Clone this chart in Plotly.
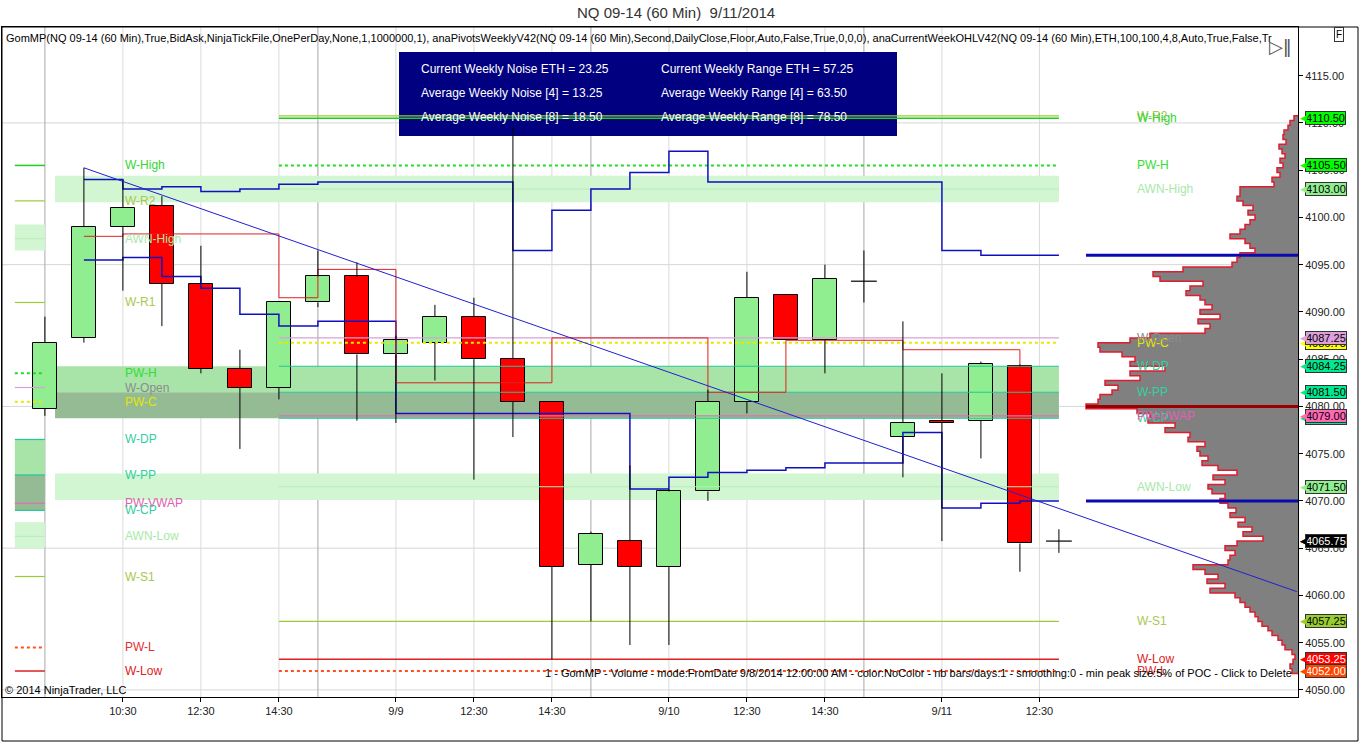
import plotly.graph_objects as go

# ---------------- 60-min candles (x = bar number) ----------------
OPEN = [4079.75, 4087.25, 4099.0, 4101.25, 4093.0, 4084.0, 4082.0, 4091.0, 4093.75, 4085.5,
        4086.75, 4089.5, 4085.0, 4080.5, 4063.25, 4065.75, 4063.0, 4071.0, 4080.5, 4091.75,
        4087.0, 4093.25, 4076.75, 4078.5, 4078.5, 4084.25, 4065.75]
HIGH = [4089.5, 4105.25, 4104.0, 4102.25, 4097.0, 4086.0, 4091.0, 4096.5, 4095.25, 4087.5,
        4090.75, 4091.5, 4109.5, 4080.5, 4066.75, 4073.75, 4071.25, 4081.75, 4094.25, 4091.75,
        4095.0, 4096.5, 4089.0, 4083.5, 4084.75, 4084.5, 4067.0]
LOW = [4079.0, 4086.75, 4092.25, 4088.5, 4083.5, 4075.5, 4080.75, 4090.5, 4078.5, 4078.25,
       4082.75, 4072.25, 4076.75, 4053.25, 4057.25, 4054.75, 4054.75, 4070.0, 4079.25, 4087.0,
       4083.5, 4091.0, 4072.5, 4065.75, 4074.5, 4062.5, 4064.5]
CLOSE = [4086.75, 4099.0, 4101.0, 4093.0, 4084.0, 4082.0, 4091.0, 4093.75, 4085.5, 4087.0,
         4089.5, 4085.0, 4080.5, 4063.0, 4066.5, 4063.0, 4071.0, 4080.5, 4091.5, 4087.0,
         4093.5, 4093.25, 4078.25, 4078.25, 4084.5, 4065.5, 4065.75]
LAST_PRICE = 4065.75

# ---------------- axes ----------------
X_TICK_POS = [2, 4, 6, 9, 11, 13, 16, 18, 20, 23, 25.5]
X_TICK_TEXT = ["10:30", "12:30", "14:30", "9/9", "12:30", "14:30", "9/10", "12:30", "14:30", "9/11", "12:30"]
SESSION_BREAKS = [0, 7, 14, 21]
Y_TICKS = [4050, 4055, 4060, 4065, 4070, 4075, 4080, 4085, 4090, 4095, 4100, 4105, 4110, 4115]
Y_GRID = [4050, 4065, 4080, 4095, 4110]

# ---------------- indicator step lines (start at bar 1) ----------------
NOISE_HIGH = [4104.0, 4103.0, 4103.25, 4102.75, 4103.0, 4103.5, 4103.75, 4103.75, 4103.75, 4103.75,
              4103.75, 4096.5, 4100.75, 4103.0, 4104.75, 4107.0, 4103.75, 4103.75, 4103.75, 4103.75,
              4103.75, 4103.75, 4096.5, 4096.0, 4096.0]
NOISE_LOW = [4095.5, 4095.75, 4093.75, 4092.5, 4089.75, 4088.5, 4089.0, 4089.0, 4079.25, 4079.25,
             4079.25, 4079.25, 4079.25, 4079.25, 4071.25, 4072.5, 4073.0, 4073.25, 4073.5, 4074.0,
             4074.0, 4077.25, 4069.25, 4069.75, 4070.0]
RED_STEP = [4098.0, 4098.25, 4098.25, 4098.25, 4098.25, 4091.5, 4094.5, 4094.5, 4082.5, 4082.5,
            4082.5, 4082.5, 4087.25, 4087.25, 4087.25, 4087.25, 4081.5, 4081.5, 4087.0, 4087.0,
            4087.0, 4086.0, 4086.0, 4086.0]
RED_STEP_END = 4084.5
TREND_X = [1, 32.1]
TREND_Y = [4105.25, 4060.4]

# ---------------- weekly pivot levels ----------------
RIGHT_LEVEL_NAMES = ["W-R2", "W-High", "PW-H", "AWN-High", "PW-C", "W-Open", "W-DP", "W-PP",
                     "W-CP", "PW-VWAP", "AWN-Low", "W-S1", "PW-L", "W-Low"]
RIGHT_LEVEL_PRICES = [4110.75, 4110.5, 4105.5, 4103.0, 4086.75, 4087.25, 4084.25, 4081.5,
                      4078.75, 4079.0, 4071.5, 4057.25, 4052.0, 4053.25]
RIGHT_LEVEL_SPAN = [6, 26]
RIGHT_AWN_BANDS = [(4101.6, 4104.4), (4070.1, 4072.9)]
RIGHT_BAND_SPAN = [0.26, 26]

LEFT_LEVEL_NAMES = ["W-High", "W-R2", "AWN-High", "W-R1", "PW-H", "W-Open", "PW-C", "W-DP",
                    "W-PP", "PW-VWAP", "W-CP", "AWN-Low", "W-S1", "PW-L", "W-Low"]
LEFT_LEVEL_PRICES = [4105.5, 4101.75, 4097.75, 4091.0, 4083.5, 4082.0, 4080.5, 4076.5,
                     4072.75, 4069.75, 4069.0, 4066.25, 4062.0, 4054.5, 4052.0]
LEFT_AWN_BANDS = [(4096.5, 4099.25), (4065.0, 4067.75)]
LEFT_SPAN = [-0.77, 0]

PRICE_BOX_VALUES = [4110.5, 4105.5, 4103.0, 4086.75, 4087.25, 4084.25, 4081.5, 4078.75,
                    4079.0, 4071.5, 4065.75, 4057.25, 4053.25, 4052.0]
PRICE_BOX_COLORS = ["#00FF00", "#00FF00", "#90EE90", "#FFFF00", "#DDA0DD", "#00E890", "#00E890",
                    "#00E890", "#FF69B4", "#90EE90", "#000000", "#9ACD32", "#FF0000", "#FF4500"]

# ---------------- volume profile (GomMP) ----------------
PROFILE_TOP = 4110.5
PROFILE_STEP = 0.5
PROFILE_VOL = [4, 8, 10, 14, 15, 12, 19, 16, 13, 18, 15, 21, 18, 26, 24, 58, 58, 61, 55, 45,
               50, 43, 48, 53, 58, 68, 53, 48, 43, 58, 61, 66, 115, 145, 138, 95, 108, 112, 98, 93,
               86, 98, 78, 100, 88, 93, 148, 168, 200, 198, 176, 163, 168, 133, 168, 158, 193, 180, 186, 198,
               200, 212, 161, 148, 150, 123, 133, 108, 110, 93, 101, 98, 90, 96, 80, 61, 85, 73, 90, 86,
               73, 78, 70, 62, 68, 53, 60, 46, 55, 35, 61, 73, 63, 68, 70, 105, 93, 80, 91, 73,
               88, 63, 58, 53, 48, 43, 40, 36, 30, 26, 20, 16, 13, 6, 3, 5, 8, 6]
PROFILE_VA = [4096.0, 4070.0]
PROFILE_POC = 4080.0

# ---------------- info panel ----------------
NOISE_LINES = ["Current Weekly Noise ETH = 23.25", "Average Weekly Noise [4] = 13.25",
               "Average Weekly Noise [8] = 18.50"]
RANGE_LINES = ["Current Weekly Range ETH = 57.25", "Average Weekly Range [4] = 63.50",
               "Average Weekly Range [8] = 78.50"]

# ---------------- styles ----------------
FONT = "Liberation Sans, Arial, sans-serif"
LINE_STYLE = {
    "W-High": ("#22CC22", "solid", 1.5), "W-R2": ("#9ACD32", "solid", 1.2),
    "W-R1": ("#9ACD32", "solid", 1.2), "PW-H": ("#22DD22", "dot", 2),
    "AWN-High": ("#B8EEB8", "solid", 1), "W-Open": ("#D8A0D8", "solid", 1.2),
    "PW-C": ("#E8E800", "dot", 2), "W-DP": ("#20C89A", "solid", 1.2),
    "W-PP": ("#20C89A", "solid", 1.2), "PW-VWAP": ("#E070B0", "solid", 1.2),
    "W-CP": ("#20C89A", "solid", 1.2), "AWN-Low": ("#B8EEB8", "solid", 1),
    "W-S1": ("#9ACD32", "solid", 1.2), "PW-L": ("#FF5020", "dot", 2),
    "W-Low": ("#DD2020", "solid", 1.5),
}
TEXT_COLOR = {
    "W-High": "#33D633", "W-R2": "#A8C850", "W-R1": "#A8C850", "PW-H": "#33DD33",
    "AWN-High": "#A8E8A8", "W-Open": "#8C8C8C", "PW-C": "#E6E600", "W-DP": "#30D0A0",
    "W-PP": "#30D0A0", "PW-VWAP": "#E060B0", "W-CP": "#30D0A0", "AWN-Low": "#A8E8A8",
    "W-S1": "#A8C850", "PW-L": "#E03030", "W-Low": "#E02020",
}
BAND_LIGHT = "#D2F5D2"
BAND_MID = "#A8E4A8"
BAND_DARK = "#94BB94"

PLOT_L, PLOT_R, PLOT_T, PLOT_B = 2, 1298, 27, 697


def px(xp):
    return (xp - PLOT_L) / (PLOT_R - PLOT_L)


def py(yp):
    return (PLOT_B - yp) / (PLOT_B - PLOT_T)


fig = go.Figure()
shapes = []
annotations = []

# --- bands (below gridlines) ---
for lo, hi in RIGHT_AWN_BANDS:
    shapes.append(dict(type="rect", xref="x", yref="y", x0=RIGHT_BAND_SPAN[0], x1=RIGHT_BAND_SPAN[1],
                       y0=lo, y1=hi, fillcolor=BAND_LIGHT, line_width=0, layer="below"))
for lo, hi in LEFT_AWN_BANDS:
    shapes.append(dict(type="rect", xref="x", yref="y", x0=LEFT_SPAN[0], x1=LEFT_SPAN[1],
                       y0=lo, y1=hi, fillcolor=BAND_LIGHT, line_width=0, layer="below"))


def lvl(names, prices, name):
    return prices[names.index(name)]


for names, prices, span in [(RIGHT_LEVEL_NAMES, RIGHT_LEVEL_PRICES, RIGHT_BAND_SPAN),
                            (LEFT_LEVEL_NAMES, LEFT_LEVEL_PRICES, LEFT_SPAN)]:
    dp, pp, cp = lvl(names, prices, "W-DP"), lvl(names, prices, "W-PP"), lvl(names, prices, "W-CP")
    shapes.append(dict(type="rect", xref="x", yref="y", x0=span[0], x1=span[1], y0=pp, y1=dp,
                       fillcolor=BAND_MID, line_width=0, layer="below"))
    shapes.append(dict(type="rect", xref="x", yref="y", x0=span[0], x1=span[1], y0=cp, y1=pp,
                       fillcolor=BAND_DARK, line_width=0, layer="below"))

# --- grid lines ---
for xv in X_TICK_POS:
    shapes.append(dict(type="line", xref="x", yref="paper", x0=xv, x1=xv, y0=0, y1=1,
                       line=dict(color="#DADADA", width=1), layer="below"))
for yv in Y_GRID:
    shapes.append(dict(type="line", xref="paper", yref="y", x0=0, x1=1, y0=yv, y1=yv,
                       line=dict(color="#D6D6D6", width=1), layer="below"))
for xv in SESSION_BREAKS:
    shapes.append(dict(type="line", xref="x", yref="paper", x0=xv, x1=xv, y0=0, y1=1,
                       line=dict(color="#A8A8A8", width=1), layer="below"))

# --- info panel ---
shapes.append(dict(type="rect", xref="paper", yref="paper", x0=px(399), x1=px(897), y0=py(136), y1=py(52),
                   fillcolor="#000080", line_width=0, layer="below"))

# --- level lines ---
for names, prices, span in [(RIGHT_LEVEL_NAMES, RIGHT_LEVEL_PRICES, RIGHT_LEVEL_SPAN),
                            (LEFT_LEVEL_NAMES, LEFT_LEVEL_PRICES, LEFT_SPAN)]:
    for n, p in zip(names, prices):
        c, d, w = LINE_STYLE[n]
        fig.add_trace(go.Scatter(x=span, y=[p, p], mode="lines", line=dict(color=c, dash=d, width=w),
                                 hoverinfo="skip", showlegend=False))

# --- step lines ---
nh_x = list(range(1, len(NOISE_HIGH) + 2))
fig.add_trace(go.Scatter(x=nh_x, y=NOISE_HIGH + [NOISE_HIGH[-1]], mode="lines", line_shape="hv",
                         line=dict(color="#1010C0", width=1.5), hoverinfo="skip", showlegend=False))
nl_x = list(range(1, len(NOISE_LOW) + 2))
fig.add_trace(go.Scatter(x=nl_x, y=NOISE_LOW + [NOISE_LOW[-1]], mode="lines", line_shape="hv",
                         line=dict(color="#1010C0", width=1.5), hoverinfo="skip", showlegend=False))
rs_x = list(range(1, len(RED_STEP) + 2))
fig.add_trace(go.Scatter(x=rs_x, y=RED_STEP + [RED_STEP_END], mode="lines", line_shape="hv",
                         line=dict(color="#E02020", width=1), hoverinfo="skip", showlegend=False))

# --- candles ---
bars = list(range(len(OPEN)))
wx, wy, dx, dy = [], [], [], []
bx, bh, bb, bc = [], [], [], []
for i, o, h, l, c in zip(bars, OPEN, HIGH, LOW, CLOSE):
    top, bot = max(o, c), min(o, c)
    if h > top:
        wx += [i, i, None]; wy += [h, top, None]
    if l < bot:
        wx += [i, i, None]; wy += [bot, l, None]
    if o == c:
        dx += [i - 0.33, i + 0.33, None]; dy += [o, o, None]
    else:
        bx.append(i); bh.append(top - bot); bb.append(bot)
        bc.append("#90EE90" if c > o else "#FF0000")
fig.add_trace(go.Bar(x=bx, y=bh, base=bb, width=0.62, marker=dict(color=bc, line=dict(color="black", width=1)),
                     hoverinfo="skip", showlegend=False))
fig.add_trace(go.Scatter(x=wx, y=wy, mode="lines", line=dict(color="black", width=1),
                         hoverinfo="skip", showlegend=False))
fig.add_trace(go.Scatter(x=dx, y=dy, mode="lines", line=dict(color="black", width=1.2),
                         hoverinfo="skip", showlegend=False))

# --- volume profile on overlaid reversed axis ---
prof_p = [PROFILE_TOP - PROFILE_STEP * k for k in range(len(PROFILE_VOL))]
half = PROFILE_STEP / 2
vx, vy = [0, PROFILE_VOL[0]], [prof_p[0] + half, prof_p[0] + half]
for k, (p, v) in enumerate(zip(prof_p, PROFILE_VOL)):
    if k > 0:
        vx.append(v); vy.append(p + half)
    vx.append(v); vy.append(p - half)
vx.append(0); vy.append(prof_p[-1] - half)
fig.add_trace(go.Scatter(x=vx, y=vy, xaxis="x2", mode="lines", fill="toself", fillcolor="#808080",
                         line=dict(color="#DC1E2E", width=1.5), hoverinfo="skip", showlegend=False))
vmax = max(PROFILE_VOL)
for yv in PROFILE_VA:
    fig.add_trace(go.Scatter(x=[vmax, 0], y=[yv, yv], xaxis="x2", mode="lines",
                             line=dict(color="#0A0AB0", width=3), hoverinfo="skip", showlegend=False))
fig.add_trace(go.Scatter(x=[vmax, 0], y=[PROFILE_POC, PROFILE_POC], xaxis="x2", mode="lines",
                         line=dict(color="#9A0000", width=3), hoverinfo="skip", showlegend=False))

# --- trend line (above everything) ---
shapes.append(dict(type="line", xref="x", yref="y", x0=TREND_X[0], x1=TREND_X[1], y0=TREND_Y[0], y1=TREND_Y[1],
                   line=dict(color="#2020D0", width=1), layer="above"))

# --- outer frame ---
shapes.append(dict(type="rect", xref="paper", yref="paper", x0=0, x1=px(1358), y0=py(741), y1=1,
                   line=dict(color="black", width=1), fillcolor="rgba(0,0,0,0)", layer="above"))

# --- level labels ---
for n, p in zip(LEFT_LEVEL_NAMES, LEFT_LEVEL_PRICES):
    annotations.append(dict(x=2, y=p, xref="x", yref="y", text=n, showarrow=False, xanchor="left",
                            yanchor="middle", font=dict(family=FONT, size=12, color=TEXT_COLOR[n])))
for n, p in zip(RIGHT_LEVEL_NAMES, RIGHT_LEVEL_PRICES):
    annotations.append(dict(x=28, y=p, xref="x", yref="y", text=n, showarrow=False, xanchor="left",
                            yanchor="middle", xshift=-2, font=dict(family=FONT, size=12, color=TEXT_COLOR[n])))

# --- price boxes on the axis ---
for p, col in zip(PRICE_BOX_VALUES + [LAST_PRICE], PRICE_BOX_COLORS + ["#000000"]):
    dark = col in ("#000000", "#FF0000", "#FF4500")
    annotations.append(dict(x=1, y=p, xref="paper", yref="y", text=f"{p:.2f}", showarrow=False,
                            xanchor="left", yanchor="middle", xshift=7, bgcolor=col, bordercolor="#333333",
                            borderwidth=1, borderpad=0,
                            font=dict(family=FONT, size=11, color="white" if dark else "black")))
    annotations.append(dict(x=1, y=p, xref="paper", yref="y", text="◀", showarrow=False,
                            xanchor="left", yanchor="middle", xshift=0,
                            font=dict(family="DejaVu Sans", size=9, color=col)))

# --- info panel text ---
for k, (a, b) in enumerate(zip(NOISE_LINES, RANGE_LINES)):
    yy = py(69 + 24 * k)
    annotations.append(dict(x=px(419), y=yy, xref="paper", yref="paper", text=a, showarrow=False,
                            xanchor="left", yanchor="middle", font=dict(family=FONT, size=12, color="white")))
    annotations.append(dict(x=px(659), y=yy, xref="paper", yref="paper", text=b, showarrow=False,
                            xanchor="left", yanchor="middle", font=dict(family=FONT, size=12, color="white")))

# --- texts ---
HEADER = ("GomMP(NQ 09-14 (60 Min),True,BidAsk,NinjaTickFile,OnePerDay,None,1,1000000,1), "
          "anaPivotsWeeklyV42(NQ 09-14 (60 Min),Second,DailyClose,Floor,Auto,False,True,0,0,0), "
          "anaCurrentWeekOHLV42(NQ 09-14 (60 Min),ETH,100,100,4,8,Auto,True,False,Tr")
annotations.append(dict(x=px(4), y=py(38), xref="paper", yref="paper", text=HEADER, showarrow=False,
                        xanchor="left", yanchor="middle", font=dict(family=FONT, size=11, color="black")))
annotations.append(dict(x=px(676), y=py(13), xref="paper", yref="paper", text="NQ 09-14 (60 Min)  9/11/2014",
                        showarrow=False, xanchor="center", yanchor="middle",
                        font=dict(family=FONT, size=15, color="#333333")))
annotations.append(dict(x=px(3), y=py(690), xref="paper", yref="paper", text="© 2014 NinjaTrader, LLC",
                        showarrow=False, xanchor="left", yanchor="middle",
                        font=dict(family=FONT, size=11, color="black")))
annotations.append(dict(x=px(1294), y=py(673), xref="paper", yref="paper",
                        text="1 - GomMP - Volume - mode:FromDate 9/8/2014 12:00:00 AM - color:NoColor - nb bars/days:1 - smoothing:0 - min peak size:5% of POC - Click to Delete",
                        showarrow=False, xanchor="right", yanchor="middle",
                        font=dict(family=FONT, size=11, color="black")))
annotations.append(dict(x=px(1339), y=py(34), xref="paper", yref="paper", text="F", showarrow=False,
                        xanchor="center", yanchor="middle", bordercolor="#333333", borderwidth=1, borderpad=1,
                        font=dict(family=FONT, size=10, color="black")))
annotations.append(dict(x=px(1280), y=py(47), xref="paper", yref="paper", text="▷‖", showarrow=False,
                        xanchor="center", yanchor="middle",
                        font=dict(family="DejaVu Sans", size=18, color="#555555")))

fig.update_layout(
    width=1360, height=743, autosize=False,
    margin=dict(l=PLOT_L, r=1360 - PLOT_R, t=PLOT_T, b=743 - PLOT_B, pad=0),
    paper_bgcolor="white", plot_bgcolor="white",
    showlegend=False, bargap=0, hovermode=False,
    font=dict(family=FONT, size=11, color="#222222"),
    xaxis=dict(range=[-1.1, 32.13], tickmode="array", tickvals=X_TICK_POS, ticktext=X_TICK_TEXT,
               showgrid=False, zeroline=False, showline=True, linecolor="black", linewidth=1, mirror=True,
               ticks="outside", ticklen=4, tickcolor="black", tickfont=dict(size=11, color="#222222")),
    xaxis2=dict(overlaying="x", range=[1296, 0], visible=False, showgrid=False, zeroline=False),
    yaxis=dict(range=[4049.25, 4120.15], side="right", tickmode="array", tickvals=Y_TICKS,
               tickformat=".2f", showgrid=False, zeroline=False, showline=True, linecolor="black",
               linewidth=1, mirror=True, ticks="outside", ticklen=4, tickcolor="black",
               tickfont=dict(size=11, color="#222222")),
    shapes=shapes, annotations=annotations,
)

fig.write_html("out.html", config={"displayModeBar": False},
               post_script="document.body.style.margin='0';document.body.style.padding='0';"
                           "document.body.style.overflow='hidden';")
